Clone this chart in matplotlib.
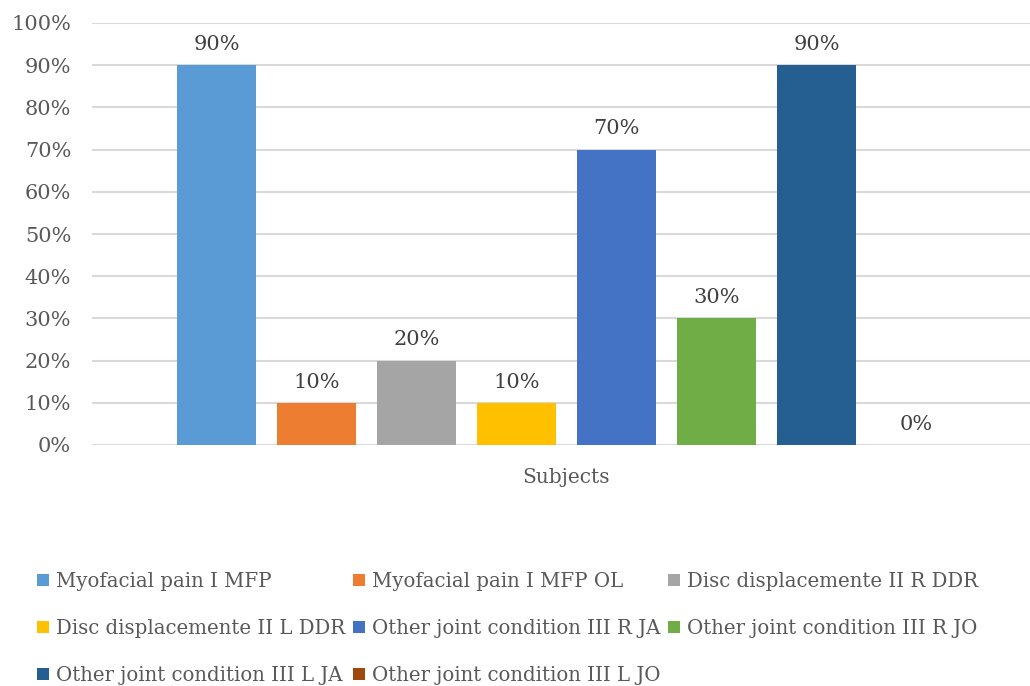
import matplotlib.pyplot as plt
from matplotlib.patches import Patch

# Share of subjects per diagnosis group
categories = [
    "Myofacial pain I MFP",
    "Myofacial pain I MFP OL",
    "Disc displacemente II R DDR",
    "Disc displacemente II L DDR",
    "Other joint condition III R JA",
    "Other joint condition III R JO",
    "Other joint condition III L JA",
    "Other joint condition III L JO",
]
percentages = [90, 10, 20, 10, 70, 30, 90, 0]
colors = ["#5B9BD5", "#ED7D31", "#A5A5A5", "#FFC000",
          "#4472C4", "#70AD47", "#255E91", "#9E480E"]
y_ticks = list(range(0, 101, 10))
x_label = "Subjects"

text_color = "#595959"
font = "DejaVu Serif"

fig = plt.figure(figsize=(10.30, 6.86), dpi=100)
ax = fig.add_axes([92 / 1030, 1 - 445 / 686, 1 - 92 / 1030, (445 - 23) / 686])

positions = list(range(len(categories)))
bars = ax.bar(positions, percentages, width=0.79, color=colors, zorder=3)

for rect, val in zip(bars, percentages):
    ax.annotate(f"{val}%", (rect.get_x() + rect.get_width() / 2, val),
                xytext=(0, 8), textcoords="offset points",
                ha="center", va="bottom", fontsize=15,
                color="#404040", family=font)

ax.set_ylim(0, 100)
ax.set_xlim(-1.245, 8.135)
ax.set_yticks(y_ticks)
ax.set_yticklabels([f"{t}%" for t in y_ticks], family=font, fontsize=15,
                   color=text_color)
ax.tick_params(axis="y", length=0, pad=15)
ax.set_xticks([])
ax.grid(axis="y", color="#D9D9D9", linewidth=1.5, zorder=0)
for side in ["top", "right", "left", "bottom"]:
    ax.spines[side].set_visible(False)

ax.text(3.5, -5.5, x_label, ha="center", va="top", fontsize=14.5,
        color=text_color, family=font)

# legend laid out row by row across three columns
order = [0, 3, 6, 1, 4, 7, 2, 5]
handles = [Patch(facecolor=colors[i], label=categories[i]) for i in order]
fig.legend(handles=handles, ncol=3, loc="upper left",
           bbox_to_anchor=(29 / 1030, 1 - 564 / 686), frameon=False,
           prop={"family": font, "size": 14.2}, labelcolor=text_color,
           handlelength=0.6, handleheight=0.6, handletextpad=0.35,
           columnspacing=0.4, labelspacing=1.42, borderaxespad=0)

fig.savefig("out.png", dpi=100)
